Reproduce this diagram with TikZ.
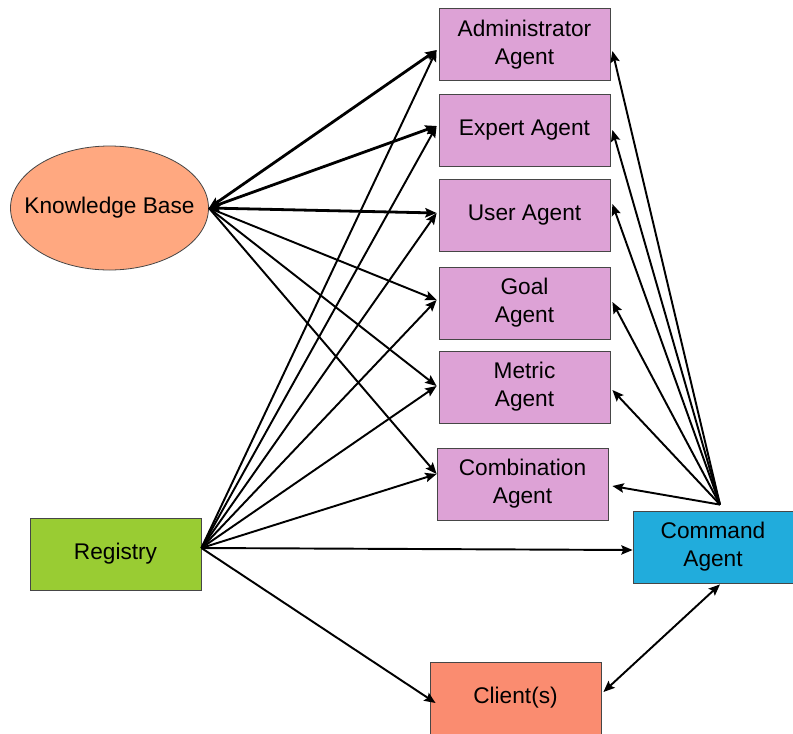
\documentclass[tikz,border=0pt]{standalone}
\usepackage{fontspec}
\setmainfont{Liberation Sans}
\usetikzlibrary{arrows.meta,shapes.geometric,calc}
\definecolor{agentpink}{RGB}{221,162,214}
\definecolor{cmdblue}{RGB}{33,172,220}
\definecolor{reggreen}{RGB}{153,204,51}
\definecolor{kbsalmon}{RGB}{255,168,128}
\definecolor{clisalmon}{RGB}{250,140,112}
\definecolor{edgegray}{RGB}{70,70,70}
\tikzset{
  agentbox/.style={draw=edgegray, line width=0.6pt, fill=agentpink, minimum width=128.25pt, minimum height=54pt, inner sep=0pt, align=center, font=\fontsize{17}{21}\selectfont},
  otherbox/.style={agentbox},
  conn/.style={line width=1.45pt, -{Stealth[length=8.5pt,width=7pt,inset=1.5pt]}},
  bconn/.style={line width=2.1pt, {Stealth[length=8.5pt,width=7pt,inset=1.5pt]}-{Stealth[length=8.5pt,width=7pt,inset=1.5pt]}},
  dconn/.style={line width=1.45pt, {Stealth[length=8.5pt,width=7pt,inset=1.5pt]}-{Stealth[length=8.5pt,width=7pt,inset=1.5pt]}},
}
\begin{document}
\begin{tikzpicture}[x=0.75pt,y=-0.75pt]
\useasboundingbox (0,0) rectangle (793,733);
% nodes
\node[draw=edgegray, line width=0.6pt, fill=kbsalmon, ellipse, minimum width=148.5pt, minimum height=93pt, inner sep=0pt, font=\fontsize{17}{21}\selectfont] (kb) at (109.5,208) {\makebox[0pt]{Knowledge Base}};
\node[agentbox] (adm) at (524.5,44.5) {Administrator\\Agent};
\node[agentbox] (exp) at (524.5,130) {Expert Agent};
\node[agentbox] (usr) at (524.5,215.5) {User Agent};
\node[agentbox] (goal) at (524.5,303) {Goal\\Agent};
\node[agentbox] (met) at (524.5,387) {Metric\\Agent};
\node[agentbox] (comb) at (522.5,484) {Combination\\Agent};
\node[otherbox, fill=cmdblue, minimum width=120pt] (cmd) at (713,547) {Command\\Agent};
\node[otherbox, fill=reggreen] (reg) at (115.5,554) {Registry};
\node[otherbox, fill=clisalmon] (cli) at (515.5,698) {Client(s)};
% anchor points
\coordinate (kbp) at (kb.east);
\coordinate (regp) at ($(reg.east)+(0,-6)$);
\coordinate (cmdp) at ($(cmd.north)+(7,-6)$);
\coordinate (admL) at ($(adm.west)+(-2,5.5)$);
\coordinate (expL) at ($(exp.west)+(-2,-4)$);
\coordinate (usrL) at ($(usr.west)+(-2,-2.5)$);
\coordinate (goalL) at ($(goal.west)+(-2,-3)$);
\coordinate (metL) at ($(met.west)+(-2,-1)$);
\coordinate (combL) at ($(comb.west)+(0,-10)$);
\coordinate (admR) at ($(adm.east)+(2,6.5)$);
\coordinate (expR) at ($(exp.east)+(2,0)$);
\coordinate (usrR) at ($(usr.east)+(2,-11.5)$);
\coordinate (goalR) at ($(goal.east)+(2,-1)$);
\coordinate (metR) at ($(met.east)+(2,3)$);
\coordinate (combR) at ($(comb.east)+(4,2)$);
% knowledge base connectors
\draw[bconn] (kbp) -- (admL);
\draw[bconn] (kbp) -- (expL);
\draw[bconn] (kbp) -- (usrL);
\draw[conn] (kbp) -- (goalL);
\draw[conn] (kbp) -- (metL);
\draw[conn] (kbp) -- (combL);
% registry connectors
\draw[conn] (regp) -- (admL);
\draw[conn] (regp) -- (expL);
\draw[conn] (regp) -- (usrL);
\draw[conn] (regp) -- (goalL);
\draw[conn] (regp) -- (metL);
\draw[conn] (regp) -- (combL);
\draw[conn] (regp) -- ($(cmd.west)+(0,3)$);
\draw[conn] (regp) -- ($(cli.west)+(6,5)$);
% command connectors
\draw[conn] (cmdp) -- (admR);
\draw[conn] (cmdp) -- (expR);
\draw[conn] (cmdp) -- (usrR);
\draw[conn] (cmdp) -- (goalR);
\draw[conn] (cmdp) -- (metR);
\draw[conn] (cmdp) -- (combR);
\draw[dconn] ($(cmd.south)+(7,1)$) -- ($(cli.east)+(2,-6)$);
\end{tikzpicture}
\end{document}
